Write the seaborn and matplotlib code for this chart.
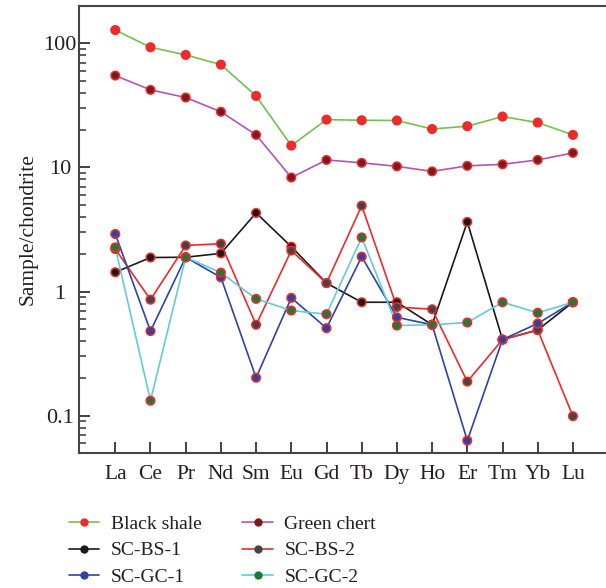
import numpy as np
import pandas as pd
import matplotlib
matplotlib.use("Agg")
import matplotlib.pyplot as plt
from matplotlib.lines import Line2D
from matplotlib.ticker import LogLocator, NullFormatter, FixedLocator
import seaborn as sns

# REE 元素
elements = ["La", "Ce", "Pr", "Nd", "Sm", "Eu", "Gd", "Tb", "Dy", "Ho", "Er", "Tm", "Yb", "Lu"]

black_shale = [128, 93, 80.7, 67.4, 37.7, 15.0, 24.3, 24.0, 23.9, 20.4, 21.5, 25.7, 23.0, 18.3]
green_chert = [55, 42.2, 36.6, 28.1, 18.3, 8.3, 11.5, 10.9, 10.2, 9.3, 10.3, 10.6, 11.5, 13.1]
sc_bs_1 = [1.43, 1.88, 1.89, 2.03, 4.30, 2.30, 1.17, 0.82, 0.82, 0.54, 3.64, 0.41, 0.49, 0.82]
sc_bs_2 = [2.20, 0.86, 2.35, 2.43, 0.54, 2.14, 1.17, 4.92, 0.75, 0.72, 0.188, 0.41, 0.49, 0.099]
sc_gc_1 = [2.91, 0.48, 1.89, 1.30, 0.202, 0.89, 0.507, 1.91, 0.62, 0.54, 0.063, 0.41, 0.553, 0.82]
sc_gc_2 = [2.27, 0.132, 1.89, 1.42, 0.873, 0.703, 0.657, 2.73, 0.532, 0.54, 0.563, 0.82, 0.674, 0.82]

series = {
    "Black shale": black_shale,
    "Green chert": green_chert,
    "SC-BS-1": sc_bs_1,
    "SC-BS-2": sc_bs_2,
    "SC-GC-1": sc_gc_1,
    "SC-GC-2": sc_gc_2,
}

line_colors = {
    "Black shale": "#72c04e",
    "Green chert": "#b553b5",
    "SC-BS-1": "#1a1a1a",
    "SC-BS-2": "#ee2a2a",
    "SC-GC-1": "#2f43a3",
    "SC-GC-2": "#62cbd9",
}
marker_colors = {
    "Black shale": "#ee2a2a",
    "Green chert": "#7a1a1e",
    "SC-BS-1": "#1a1a1a",
    "SC-BS-2": "#444444",
    "SC-GC-1": "#2f43a3",
    "SC-GC-2": "#1f7a3a",
}

# long形式に変換
rows = []
for name, vals in series.items():
    for i, v in enumerate(vals):
        rows.append({"sample": name, "idx": i, "value": v})
df = pd.DataFrame(rows)

sns.set_theme(style="white")
serif = ["Liberation Serif", "DejaVu Serif"]
plt.rcParams["font.family"] = serif
text_color = "#231f20"

fig = plt.figure(figsize=(6.06, 5.88), dpi=100)
ax = fig.add_axes([0.131, 0.2296, 0.869, 0.7602])

sns.lineplot(data=df, x="idx", y="value", hue="sample", palette=line_colors,
             sort=False, linewidth=1.2, legend=False, ax=ax, zorder=2)
sns.scatterplot(data=df, x="idx", y="value", hue="sample", palette=marker_colors,
                s=38, edgecolor="#ee2a2a", linewidth=1.1, legend=False, ax=ax, zorder=3)

ax.set_yscale("log")
ax.set_ylim(0.05, 200)
ax.set_xlim(-1.02, 13.94)

ax.set_xticks(range(len(elements)))
ax.set_xticklabels(elements)
ax.yaxis.set_major_locator(FixedLocator([0.1, 1, 10, 100]))
ax.set_yticklabels(["0.1", "1", "10", "100"])
ax.yaxis.set_minor_locator(LogLocator(base=10, subs=np.arange(2, 10)))
ax.yaxis.set_minor_formatter(NullFormatter())

ax.tick_params(axis="both", which="major", direction="in", length=8, width=1.3,
               labelsize=16, colors="#333333", labelcolor=text_color)
ax.tick_params(axis="y", which="minor", direction="in", length=5, width=1.1, colors="#333333")
ax.tick_params(axis="y", which="major", pad=14)
ax.tick_params(axis="x", which="major", pad=9, labelsize=15.5)
ax.tick_params(left=True, bottom=True, which="both")
for lab in ax.get_yticklabels():
    lab.set_horizontalalignment("center")

for side in ["left", "top", "bottom"]:
    ax.spines[side].set_color("#444444")
    ax.spines[side].set_linewidth(1.5)
ax.spines["right"].set_visible(False)

ax.set_xlabel("")
ax.set_ylabel("Sample/chondrite", fontsize=15.5, color=text_color, labelpad=4)

# 凡例
order = ["Black shale", "SC-BS-1", "SC-GC-1", "Green chert", "SC-BS-2", "SC-GC-2"]
handles = [Line2D([], [], color=line_colors[n], marker="o", markersize=5,
                  markerfacecolor=marker_colors[n], markeredgecolor=marker_colors[n],
                  linewidth=1.2) for n in order]
fig.legend(handles, order, ncol=2, loc="upper left", bbox_to_anchor=(0.114, 0.124),
           frameon=False, prop={"family": serif, "size": 14}, handlelength=1.55,
           columnspacing=2.1, labelspacing=0.47, handletextpad=0.6,
           labelcolor=text_color, borderaxespad=0, borderpad=0)

fig.savefig("out.png", dpi=100)
